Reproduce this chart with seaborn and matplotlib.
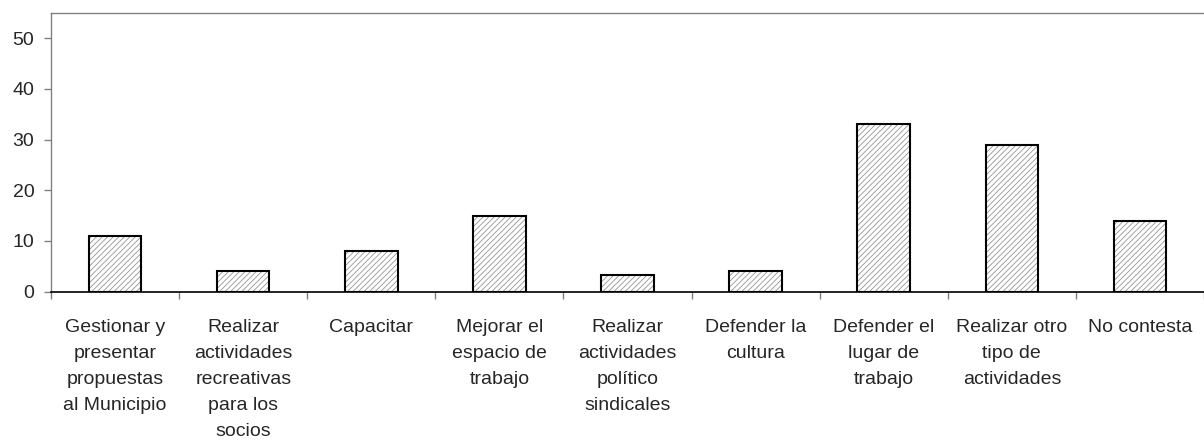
import matplotlib
matplotlib.use("Agg")
import matplotlib.pyplot as plt
import pandas as pd
import seaborn as sns

# categories (wrapped as in the original chart) and their values
categorias = [
    "Gestionar y\npresentar\npropuestas\nal Municipio",
    "Realizar\nactividades\nrecreativas\npara los\nsocios",
    "Capacitar",
    "Mejorar el\nespacio de\ntrabajo",
    "Realizar\nactividades\npolítico\nsindicales",
    "Defender la\ncultura",
    "Defender el\nlugar de\ntrabajo",
    "Realizar otro\ntipo de\nactividades",
    "No contesta",
]
valores = [11, 4, 8, 15, 3.3, 4, 33, 29, 14]
yticks = [0, 10, 20, 30, 40, 50]

df = pd.DataFrame({"categoria": categorias, "valor": valores})

sns.set_style("white")
plt.rcParams['font.family'] = ['Liberation Sans', 'DejaVu Sans']
plt.rcParams['hatch.linewidth'] = 0.55

fig = plt.figure(figsize=(12.04, 4.48), dpi=100)
ax = fig.add_axes([0.0424, 0.349, 0.9576, 0.6226])

# hatched fill in gray, then black outline on top
sns.barplot(data=df, x="categoria", y="valor", order=categorias, ax=ax,
            color="white", edgecolor="#8c8c8c", hatch="//////", linewidth=0,
            width=0.41, saturation=1)
sns.barplot(data=df, x="categoria", y="valor", order=categorias, ax=ax,
            fill=False, edgecolor="black", linewidth=1.5, width=0.41)

ax.set_xlim(-0.5, len(categorias) - 0.5)
ax.set_ylim(0, 55)
ax.set_yticks(yticks)
ax.set_xlabel("")
ax.set_ylabel("")

ax.set_xticks(range(len(categorias)))
ax.set_xticklabels(categorias, fontsize=14, linespacing=1.68)
ax.set_xticks([i - 0.5 for i in range(len(categorias) + 1)], minor=True)
ax.tick_params(axis="x", which="major", length=0, pad=20)
ax.tick_params(axis="x", which="minor", length=5, width=1, color="#808080",
               direction="out", bottom=True)
ax.tick_params(axis="y", length=5, width=1, color="#808080", direction="out",
               left=True, pad=7, labelsize=14)

for s in ["left", "top"]:
    ax.spines[s].set_color("#808080")
    ax.spines[s].set_linewidth(1)
ax.spines["bottom"].set_color("black")
ax.spines["bottom"].set_linewidth(1.2)
ax.spines["right"].set_visible(False)

fig.savefig("out.png", dpi=100)
